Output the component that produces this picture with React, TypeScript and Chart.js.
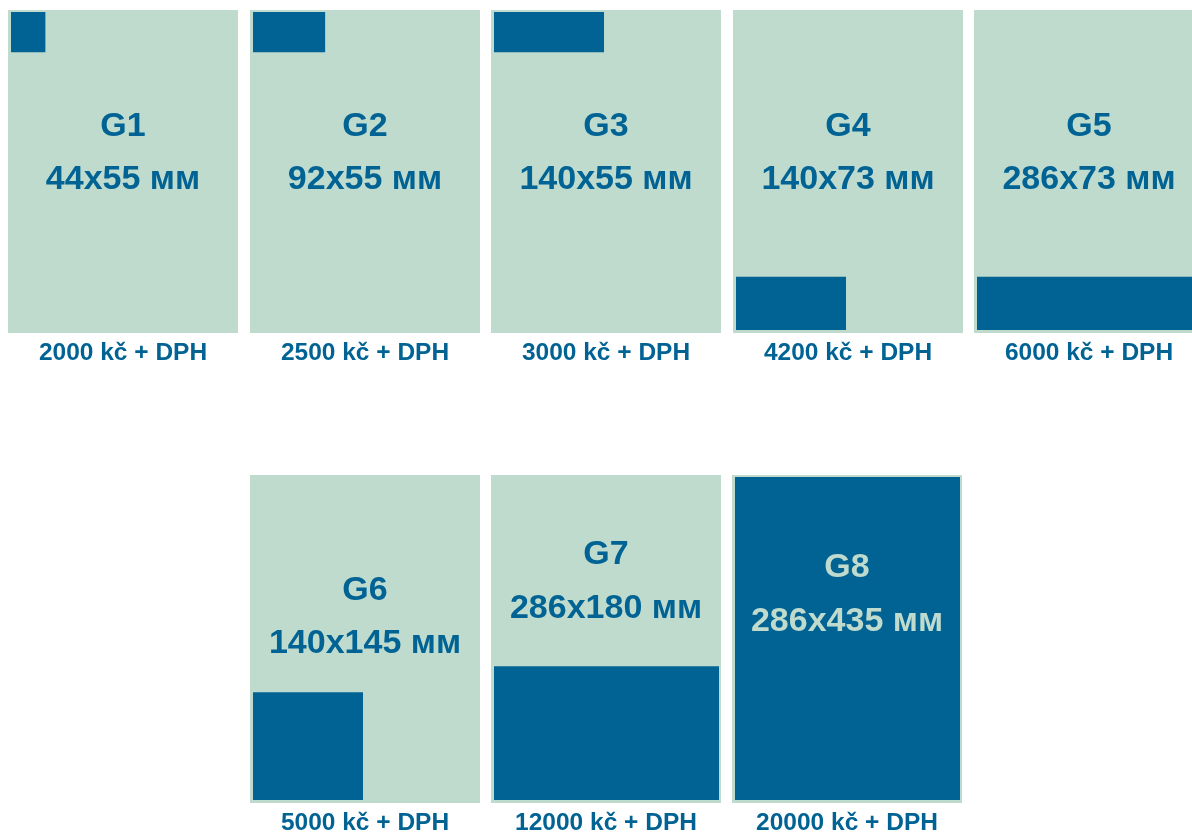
import React, { useEffect, useRef } from "react";
import { Chart, registerables } from "chart.js";

Chart.register(...registerables);

// ---- data ----
const PAGE_W_MM = 286;
const PAGE_H_MM = 435;
const adNames = ["G1", "G2", "G3", "G4", "G5", "G6", "G7", "G8"];
const adWidthsMm = [44, 92, 140, 140, 286, 140, 286, 286];
const adHeightsMm = [55, 55, 55, 73, 73, 145, 180, 435];
const adAnchors = ["top", "top", "top", "bottom", "bottom", "bottom", "bottom", "top"];
const adPrices = [2000, 2500, 3000, 4200, 6000, 5000, 12000, 20000];
const priceSuffix = "kč + DPH";
const sizeUnit = "мм";

// ---- layout / style ----
const LIGHT = "#bfdbce";
const BLUE = "#006394";
const FONT = "'Liberation Sans', Arial, sans-serif";
const PANEL_W = 230;
const PRICE_SPACE = 40;

type PanelLayout = {
  left: number;
  top: number;
  height: number;
  nameBase: number;
  sizeBase: number;
  textColor: string;
};

const panelLayouts: PanelLayout[] = [
  { left: 8, top: 10, height: 323, nameBase: 126, sizeBase: 179, textColor: BLUE },
  { left: 250, top: 10, height: 323, nameBase: 126, sizeBase: 179, textColor: BLUE },
  { left: 491, top: 10, height: 323, nameBase: 126, sizeBase: 179, textColor: BLUE },
  { left: 733, top: 10, height: 323, nameBase: 126, sizeBase: 179, textColor: BLUE },
  { left: 974, top: 10, height: 323, nameBase: 126, sizeBase: 179, textColor: BLUE },
  { left: 250, top: 475, height: 328, nameBase: 125, sizeBase: 178, textColor: BLUE },
  { left: 491, top: 475, height: 328, nameBase: 89, sizeBase: 143, textColor: BLUE },
  { left: 732, top: 475, height: 328, nameBase: 102, sizeBase: 156, textColor: LIGHT },
];

function Panel({ index }: { index: number }) {
  const ref = useRef<HTMLCanvasElement | null>(null);
  const lay = panelLayouts[index];

  useEffect(() => {
    if (!ref.current) return;
    const w = adWidthsMm[index];
    const h = adHeightsMm[index];
    const anchor = adAnchors[index];
    const lineY = anchor === "top" ? h : PAGE_H_MM - h;
    const target = anchor === "top" ? 0 : PAGE_H_MM;

    const panelPlugin = {
      id: "panelDecor",
      beforeDraw(chart: any) {
        const ctx = chart.ctx;
        ctx.save();
        ctx.fillStyle = LIGHT;
        ctx.fillRect(0, 0, PANEL_W, lay.height);
        ctx.restore();
      },
      afterDraw(chart: any) {
        const ctx = chart.ctx;
        const cx = PANEL_W / 2;
        ctx.save();
        ctx.textAlign = "center";
        ctx.textBaseline = "alphabetic";
        ctx.fillStyle = lay.textColor;
        ctx.font = `bold 34px ${FONT}`;
        ctx.fillText(adNames[index], cx, lay.nameBase);
        ctx.fillText(`${w}x${h} ${sizeUnit}`, cx, lay.sizeBase);
        ctx.fillStyle = BLUE;
        ctx.font = `bold 24.5px ${FONT}`;
        ctx.fillText(`${adPrices[index]} ${priceSuffix}`, cx, lay.height + 27);
        ctx.restore();
      },
    };

    const chart = new Chart(ref.current, {
      type: "line",
      data: {
        datasets: [
          {
            label: adNames[index],
            data: [
              { x: 0, y: lineY },
              { x: w, y: lineY },
            ],
            fill: { value: target },
            backgroundColor: BLUE,
            borderColor: "rgba(0,0,0,0)",
            borderWidth: 0,
            pointRadius: 0,
            tension: 0,
          },
        ],
      },
      options: {
        animation: false,
        responsive: false,
        maintainAspectRatio: false,
        devicePixelRatio: 1,
        layout: { padding: { left: 3, right: 2, top: 2, bottom: 3 + PRICE_SPACE } },
        scales: {
          x: { type: "linear", min: 0, max: PAGE_W_MM, display: false },
          y: { type: "linear", min: 0, max: PAGE_H_MM, reverse: true, display: false },
        },
        plugins: {
          legend: { display: false },
          tooltip: { enabled: false },
          title: { display: false },
        },
        events: [],
      },
      plugins: [panelPlugin],
    } as any);
    return () => chart.destroy();
  }, [index]);

  return (
    <canvas
      ref={ref}
      width={PANEL_W}
      height={lay.height + PRICE_SPACE}
      style={{
        position: "absolute",
        left: lay.left,
        top: lay.top,
        width: PANEL_W,
        height: lay.height + PRICE_SPACE,
      }}
    />
  );
}

export default function App() {
  return (
    <div
      style={{
        position: "fixed",
        left: 0,
        top: 0,
        width: "100vw",
        height: "100vh",
        overflow: "hidden",
        background: "#ffffff",
      }}
    >
      {adNames.map((_, i) => (
        <Panel key={i} index={i} />
      ))}
    </div>
  );
}
